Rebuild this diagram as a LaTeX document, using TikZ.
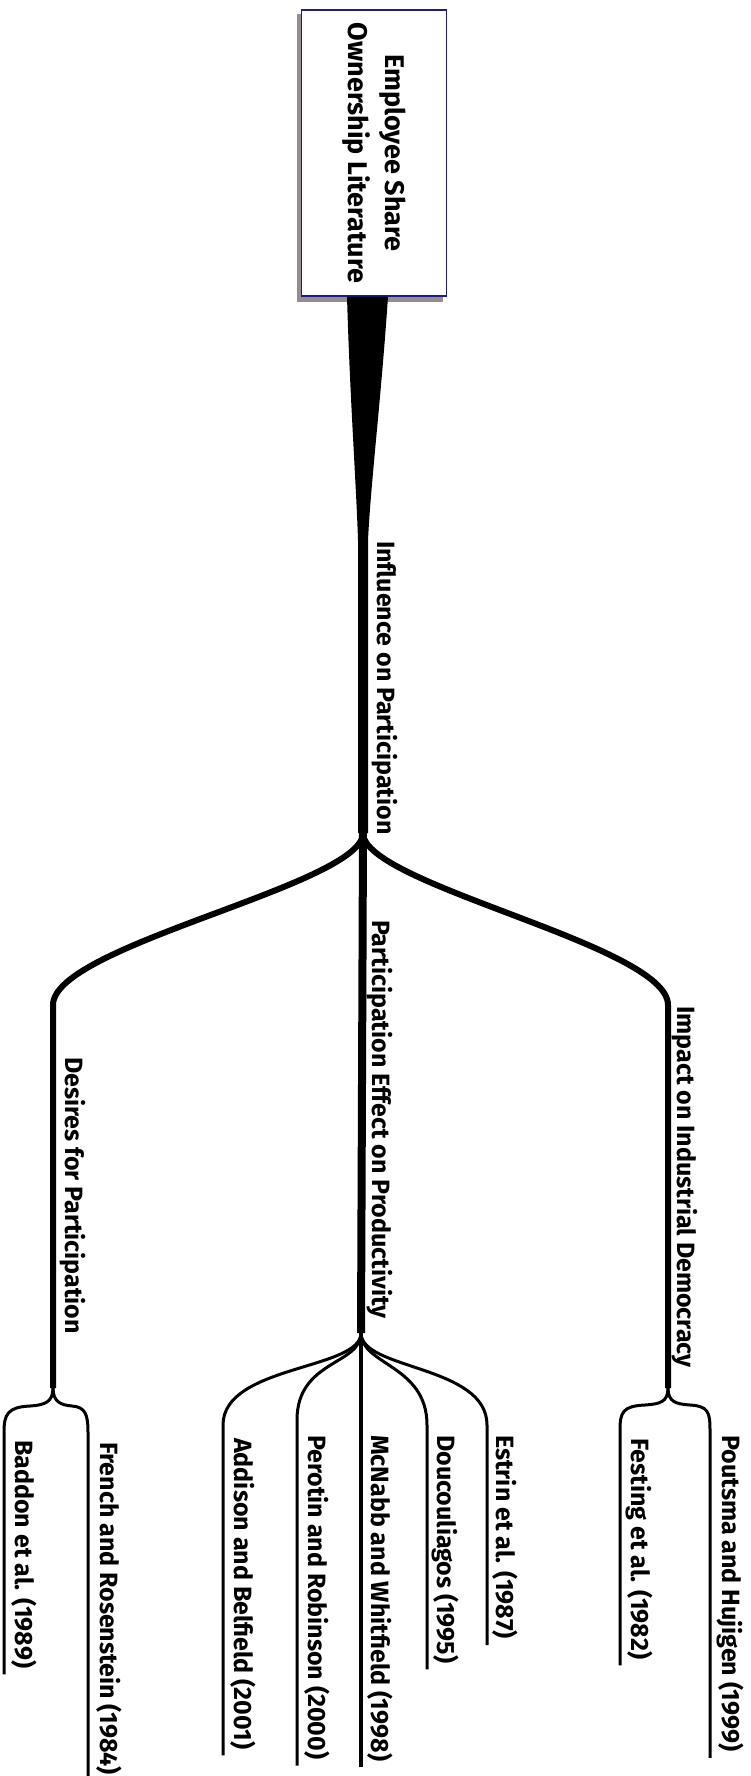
\documentclass[tikz,border=0pt]{standalone}
\usepackage{fontspec}
\setmainfont{Fira Sans}
\usetikzlibrary{calc}
\definecolor{mapNavy}{RGB}{28,28,140}
\definecolor{mapShadow}{RGB}{150,142,142}
\newcommand{\mapfont}{\bfseries\fontsize{25}{37}\selectfont}

\begin{document}
\begin{tikzpicture}[x=1pt, y=-1pt,
  topic/.style={rotate=-90, anchor=base west, inner sep=0pt, font=\mapfont},
  limb/.style={line width=6pt},
  twig/.style={line width=3pt}
]
  \useasboundingbox (0,0) rectangle (751,1776);

  % central topic
  \coordinate (rootc) at (374,153);
  \fill[mapShadow] ($(rootc)+(-77,-139)$) rectangle ($(rootc)+(69,149)$);
  \node[rotate=-90, draw=mapNavy, line width=1.2pt, fill=white, align=center,
        minimum width=286pt, minimum height=145pt, inner sep=0pt,
        font=\bfseries\fontsize{27}{37}\selectfont]
        (root) at (rootc) {Employee Share\\Ownership Literature};

  \coordinate (hub)  at (363,833);
  \coordinate (des)  at (53,1388);
  \coordinate (prod) at (361,1333);
  \coordinate (imp)  at (668,1388);

  \fill ($(root.east)+(-27,0)$) .. controls (350,400) and (356,480) .. (358,540)
        -- ($(hub)+(-5,0)$) -- ($(hub)+(5,0)$) -- (368,540)
        .. controls (371,480) and (381,400) .. ($(root.east)+(14,0)$) -- cycle;

  \draw[line width=8pt] (hub) -- (prod);
  \draw[limb] (hub) .. controls (363,885) and (53,945) .. (53,1005) -- (des);
  \draw[limb] (hub) .. controls (363,885) and (668,945) .. (668,1005) -- (imp);

  \node[topic] (infl)    at (377,541)  {Influence on Participation};
  \node[topic] (effect)  at (372,920)  {Participation Effect on Productivity};
  \node[topic] (desires) at (65,1057)  {Desires for Participation};
  \node[topic] (impact)  at (677,1006) {Impact on Industrial Democracy};

  % references
  \node[topic] (baddon)  at (16,1440)  {Baddon et al. (1989)};
  \node[topic] (french)  at (100,1442) {French and Rosenstein (1984)};
  \node[topic] (addison) at (234,1438) {Addison and Belfield (2001)};
  \node[topic] (perotin) at (308,1435) {Perotin and Robinson (2000)};
  \node[topic] (mcnabb)  at (371,1435) {McNabb and Whitfield (1998)};
  \node[topic] (doucou)  at (437,1435) {Doucouliagos (1995)};
  \node[topic] (estrin)  at (496,1435) {Estrin et al. (1987)};
  \node[topic] (festing) at (631,1438) {Festing et al. (1982)};
  \node[topic] (poutsma) at (722,1435) {Poutsma and Hujigen (1999)};

  \coordinate (baddonT)  at (4,1432);
  \coordinate (frenchT)  at (88,1432);
  \coordinate (addisonT) at (223,1425);
  \coordinate (perotinT) at (297,1420);
  \coordinate (douT)     at (427,1425);
  \coordinate (estrinT)  at (487,1425);
  \coordinate (festingT) at (620,1430);
  \coordinate (poutsmaT) at (710,1430);

  \draw[twig] (des) .. controls (53,1402) and (45,1405) .. (30,1406)
        .. controls (8,1407) and (4,1414) .. (baddonT) -- (baddonT |- baddon.east) -- ++(0,6);
  \draw[twig] (des) .. controls (53,1402) and (61,1405) .. (72,1406)
        .. controls (85,1407) and (88,1414) .. (frenchT) -- (frenchT |- french.east) -- ++(0,6);

  \draw[twig] (prod) .. controls (361,1370) and (223,1365) .. (addisonT) -- (addisonT |- addison.east) -- ++(0,6);
  \draw[twig] (prod) .. controls (361,1365) and (297,1360) .. (perotinT) -- (perotinT |- perotin.east) -- ++(0,6);
  \draw[line width=3.5pt] (prod) -- (prod |- mcnabb.east) -- ++(0,6);
  \draw[twig] (prod) .. controls (361,1365) and (427,1365) .. (douT) -- (douT |- doucou.east) -- ++(0,6);
  \draw[twig] (prod) .. controls (361,1370) and (487,1365) .. (estrinT) -- (estrinT |- estrin.east) -- ++(0,6);

  \draw[twig] (imp) .. controls (668,1402) and (660,1404) .. (645,1405)
        .. controls (623,1406) and (620,1412) .. (festingT) -- (festingT |- festing.east) -- ++(0,6);
  \draw[twig] (imp) .. controls (668,1402) and (676,1404) .. (690,1405)
        .. controls (708,1406) and (710,1412) .. (poutsmaT) -- (poutsmaT |- poutsma.east) -- ++(0,6);
\end{tikzpicture}
\end{document}
